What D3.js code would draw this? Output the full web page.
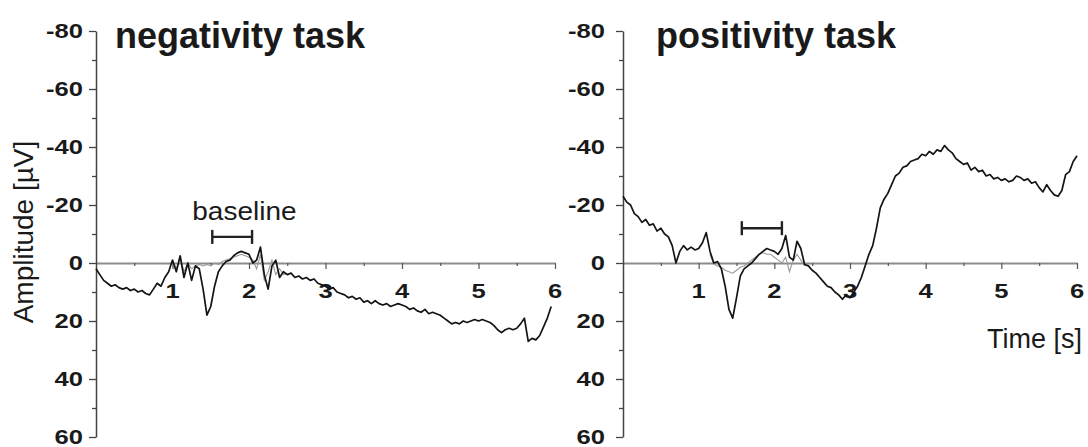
<!DOCTYPE html>
<html>
<head>
<meta charset="utf-8">
<script src="https://cdn.jsdelivr.net/npm/d3@7/dist/d3.min.js"></script>
<style>
  html, body { margin: 0; padding: 0; background: #ffffff; }
  svg { display: block; }
  text { font-family: "Liberation Sans", Arial, sans-serif; fill: #1a1a1a; }
</style>
</head>
<body>
<svg id="chart" width="1088" height="447"></svg>
<script>
// ---------------- DATA ----------------
const panelTitles = ["negativity task", "positivity task"];
const yTickValues = [-80, -60, -40, -20, 0, 20, 40, 60];
const yMinorValues = [-70, -50, -30, -10, 10, 30, 50];
const xTickValues = [1, 2, 3, 4, 5, 6];
const xMinorValues = [0.5, 1.5, 2.5, 3.5, 4.5, 5.5];
const sampleStep = 0.05; // seconds between samples

// negativity task, main (black) trace, starting at t = 0 s
const negMain = [2,4,6,7,8,7.5,8.5,9,8.5,9.5,
  9,10,9.5,10.5,11,9,7,8,5,3,
  -1,3,-2.5,5,0,6,1,2,9,18,
  15,8,3,1,-0.5,-1,-2.5,-3.5,-4,-3.5,
  -3,0,-1,-5.5,4,9,1,-1,5,3,
  4,3.5,5,4.5,5.5,5,6,5.5,7,7.5,
  8,9,8.5,10,10.5,11,12,11.5,12.5,12,
  13.5,13,14,13,14,14.5,14,15,14.5,14,
  14.5,15,16,15.5,16.5,17,16,17.5,17,17.5,
  18,19,20,21,20.5,21,20,20.5,20,19.5,
  20,19.5,20,20.5,21.5,23,24,23,22.5,23,
  22.5,21,19,27,26,26.5,25,22,19,15];
// negativity task, secondary (grey) trace, starting at t = 1.0 s
const negGreyStart = 1.0;
const negGrey = [-1,2,-2,3,0,2,1,0.5,1,0.5,
  1,0,0.5,-0.5,-1,-1.5,-2,-2.5,-3,-2.5,
  -2,-1,2,-3,6,3,-1,4,2,4,3.5];

// positivity task, main (black) trace, starting at t = 0 s
const posMain = [-23,-21,-20,-17,-16,-14,-15,-13,-13.5,-11,
  -12,-10,-9,-6,0,-4,-6,-4.5,-5.5,-4.5,
  -5,-7,-10.5,-4,0,-0.5,2,8,16,19,
  12,4.5,2,1,0,-1.5,-3,-4,-5,-4.5,
  -4,-3,-5,-9.5,-2,-1,-7.5,-5,0.5,1,
  2.5,3.5,5,6.5,8,8.5,10,11,12.5,11,
  12,10,8,5,1,-3,-6,-12,-19,-22,
  -24,-27,-30,-31,-33,-33.5,-35,-35.5,-36,-37.5,
  -37,-38.5,-37.5,-39,-38.5,-40.5,-39,-38,-36,-35,
  -34,-34.5,-32,-33,-31.5,-32,-30,-30.5,-29,-29.5,
  -28.5,-29,-28,-28.5,-30,-29.5,-28.5,-29,-27.5,-28,
  -26,-24.5,-27,-25,-23.5,-23,-25,-30.5,-31.5,-35,
  -37];
// positivity task, secondary (grey) trace, starting at t = 1.15 s
const posGreyStart = 1.15;
const posGrey = [-3,0.5,1,1.5,2.5,3,3.5,2.5,1.5,1,
  0,-1,-2,-3,-3.5,-3,-3,-2,-1,0,
  -2,3,-1,-3,-1,1];

// baseline interval brackets [start s, end s, level µV]
const negBaseline = [1.52, 2.04, -9];
const posBaseline = [1.57, 2.10, -12];
const baselineLabelTime = 1.94;

// ---------------- DRAW ----------------
const svg = d3.select("#chart");
const yScale = d3.scaleLinear().domain([-80, 60]).range([31, 437]);

const panels = [
  { title: panelTitles[0], main: negMain, grey: negGrey, greyStart: negGreyStart,
    base: negBaseline, x0: 96, x1: 555, labelGap: 13, titleX: 115, baselineText: true },
  { title: panelTitles[1], main: posMain, grey: posGrey, greyStart: posGreyStart,
    base: posBaseline, x0: 623, x1: 1077, labelGap: 18, titleX: 656, baselineText: false }
];

const tickScaleX = 1.28;

panels.forEach(p => {
  const x = d3.scaleLinear().domain([0, 6]).range([p.x0, p.x1]);
  const g = svg.append("g");

  // x axis (zero line)
  const xAxisG = g.append("g").attr("transform", `translate(0,${yScale(0)})`);
  xAxisG.call(d3.axisBottom(x).tickValues(xTickValues).tickSize(6).tickSizeOuter(0).tickFormat(""));
  xAxisG.select(".domain").attr("stroke", "#8c8c8c").attr("stroke-width", 2);
  xAxisG.selectAll(".tick line").attr("stroke", "#555").attr("stroke-width", 1.2);
  const xMinorG = g.append("g").attr("transform", `translate(0,${yScale(0)})`);
  xMinorG.call(d3.axisBottom(x).tickValues(xMinorValues).tickSize(3).tickFormat(""));
  xMinorG.select(".domain").remove();
  xMinorG.selectAll(".tick line").attr("stroke", "#555").attr("stroke-width", 1.2);

  // x tick labels
  g.selectAll(".xlab").data(xTickValues).enter().append("text")
    .attr("transform", d => `translate(${x(d)},298) scale(${tickScaleX},1)`)
    .attr("text-anchor", "middle")
    .style("font-size", "20px").style("font-weight", "bold")
    .text(d => String(d));

  // y axis
  const yAxisG = g.append("g").attr("transform", `translate(${p.x0},0)`);
  yAxisG.call(d3.axisLeft(yScale).tickValues(yTickValues).tickSize(7).tickSizeOuter(0).tickFormat(""));
  yAxisG.select(".domain").attr("stroke", "#444").attr("stroke-width", 1.5);
  yAxisG.selectAll(".tick line").attr("stroke", "#444").attr("stroke-width", 1.3);
  const yMinorG = g.append("g").attr("transform", `translate(${p.x0},0)`);
  yMinorG.call(d3.axisLeft(yScale).tickValues(yMinorValues).tickSize(4).tickFormat(""));
  yMinorG.select(".domain").remove();
  yMinorG.selectAll(".tick line").attr("stroke", "#444").attr("stroke-width", 1.3);

  g.selectAll(".ylab").data(yTickValues).enter().append("text")
    .attr("transform", d => `translate(${p.x0 - p.labelGap},${yScale(d) + 7}) scale(${tickScaleX},1)`)
    .attr("text-anchor", "end")
    .style("font-size", "20px").style("font-weight", "bold")
    .text(d => String(d));

  // title
  g.append("text").attr("x", p.titleX).attr("y", 48)
    .style("font-size", "36px").style("font-weight", "bold")
    .text(p.title);

  // traces
  const line = d3.line().x(d => x(d[0])).y(d => yScale(d[1]));
  const greyPts = p.grey.map((v, i) => [p.greyStart + i * sampleStep, v]);
  const mainPts = p.main.map((v, i) => [i * sampleStep, v]);
  g.append("path").datum(greyPts).attr("d", line)
    .attr("fill", "none").attr("stroke", "#9a9a9a").attr("stroke-width", 1.1);
  g.append("path").datum(mainPts).attr("d", line)
    .attr("fill", "none").attr("stroke", "#141414").attr("stroke-width", 1.7)
    .attr("stroke-linejoin", "round");

  // baseline bracket
  const bx0 = x(p.base[0]), bx1 = x(p.base[1]), by = yScale(p.base[2]);
  const bg = g.append("g").attr("stroke", "#222").attr("stroke-width", 2.4);
  bg.append("line").attr("x1", bx0).attr("x2", bx1).attr("y1", by).attr("y2", by);
  bg.append("line").attr("x1", bx0).attr("x2", bx0).attr("y1", by - 7).attr("y2", by + 7);
  bg.append("line").attr("x1", bx1).attr("x2", bx1).attr("y1", by - 7).attr("y2", by + 7);
  if (p.baselineText) {
    g.append("text").attr("transform", `translate(${x(baselineLabelTime)},220) scale(1.12,1)`)
      .attr("text-anchor", "middle").style("font-size", "25px")
      .text("baseline");
  }
});

// axis titles
svg.append("text")
  .attr("transform", `translate(33,232) rotate(-90)`)
  .attr("text-anchor", "middle").style("font-size", "28px")
  .text("Amplitude [µV]");
svg.append("text")
  .attr("x", 1082).attr("y", 348).attr("text-anchor", "end")
  .style("font-size", "27px")
  .text("Time [s]");
</script>
</body>
</html>
